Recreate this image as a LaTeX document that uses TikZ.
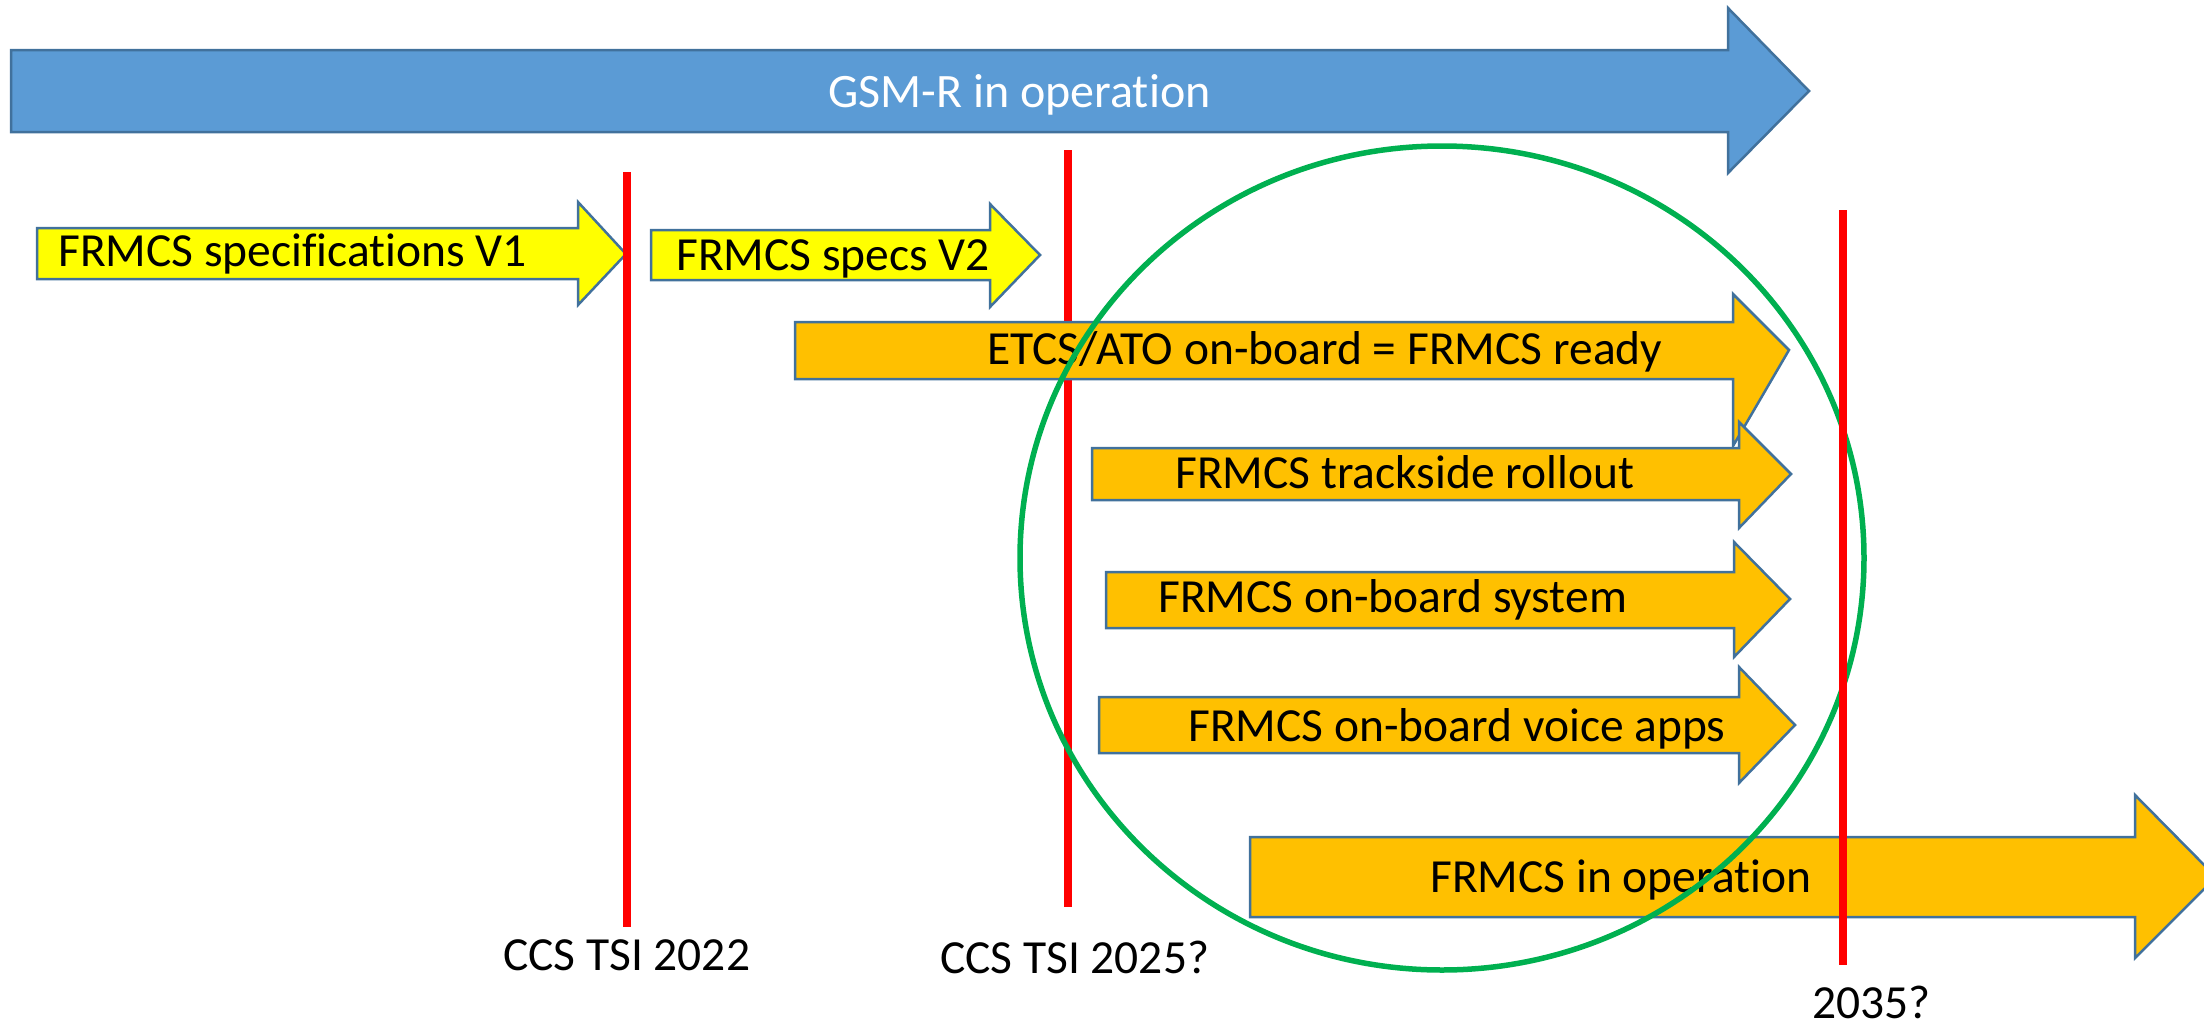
\documentclass[tikz,border=0pt]{standalone}
\usepackage{fontspec}
\setmainfont{Carlito}[Ligatures=NoCommon]
\definecolor{bluefill}{HTML}{5B9BD5}
\definecolor{edgeblue}{HTML}{41719C}
\definecolor{yelfill}{HTML}{FFFF00}
\definecolor{orfill}{HTML}{FFC000}
\definecolor{grn}{HTML}{00B050}
\definecolor{redl}{HTML}{FF0000}
\tikzset{
  arrowshape/.style={draw=edgeblue, line width=2.5pt, line join=miter},
  bluearrow/.style={arrowshape, fill=bluefill},
  yelarrow/.style={arrowshape, fill=yelfill},
  orarrow/.style={arrowshape, fill=orfill},
  lbl/.style={inner sep=0pt, anchor=base west, font=\fontsize{47.5}{56}\selectfont},
  milestone/.style={draw=redl, line width=7.5pt},
  focus/.style={draw=grn, line width=5.5pt}
}
% #1 style, #2 left, #3 top, #4 bottom, #5 head x, #6 head top, #7 head bottom, #8 tip x, #9 mid y
\newcommand\fatarrow[9]{\path[#1] (#2,#3) -- (#5,#3) -- (#5,#6) -- (#8,#9) -- (#5,#7) -- (#5,#4) -- (#2,#4) -- cycle;}
\begin{document}
\begin{tikzpicture}[x=1pt,y=-1pt]
\useasboundingbox (0,0) rectangle (2204,1026);
% GSM-R
\fatarrow{bluearrow}{11}{50}{132}{1728}{8}{173}{1809}{91}
\node[lbl, text=white, font=\fontsize{48}{56}\selectfont] (gsmr) at (828,107) {GSM-R in operation};
% yellow
\fatarrow{yelarrow}{37}{228}{279}{578}{202}{305}{626}{254}
\node[lbl] (spec1) at (58,266) {FRMCS specifications V1};
\fatarrow{yelarrow}{651}{230}{280}{990}{204}{307}{1040}{255}
\node[lbl] (spec2) at (676,270) {FRMCS specs V2};
% milestones 1 and 2
\coordinate (m1t) at (627,172); \coordinate (m1b) at (627,927);
\coordinate (m2t) at (1068,150); \coordinate (m2b) at (1068,907);
\draw[milestone] (m1t) -- (m1b);
\draw[milestone] (m2t) -- (m2b);
% orange
\fatarrow{orarrow}{795}{322}{379}{1733}{294}{446}{1789}{350}
\node[lbl] (etcs) at (987,364) {ETCS/ATO on-board = FRMCS ready};
\fatarrow{orarrow}{1092}{448}{500}{1739}{422}{528}{1791}{474}
\node[lbl] (track) at (1175,488) {FRMCS trackside rollout};
\fatarrow{orarrow}{1106}{572}{628}{1734}{542}{657}{1790}{599}
\node[lbl] (obs) at (1158,612) {FRMCS on-board system};
\fatarrow{orarrow}{1099}{697}{753}{1739}{667}{783}{1795}{725}
\node[lbl] (voice) at (1188,741) {FRMCS on-board voice apps};
\fatarrow{orarrow}{1250}{837}{917}{2135}{795}{958}{2216}{877}
\node[lbl] (oper) at (1430,892) {FRMCS in operation};
% focus ellipse
\coordinate (ec) at (1442,558);
\draw[focus] (ec) ellipse [x radius=422, y radius=412];
% milestone 3
\coordinate (m3t) at (1843,210); \coordinate (m3b) at (1843,965);
\draw[milestone] (m3t) -- (m3b);
% labels
\node[lbl] (tsi22) at (503,970) {CCS TSI 2022};
\node[lbl] (tsi25) at (940,973) {CCS TSI 2025?};
\node[lbl] (y35) at (1812,1018) {2035?};
\end{tikzpicture}
\end{document}
